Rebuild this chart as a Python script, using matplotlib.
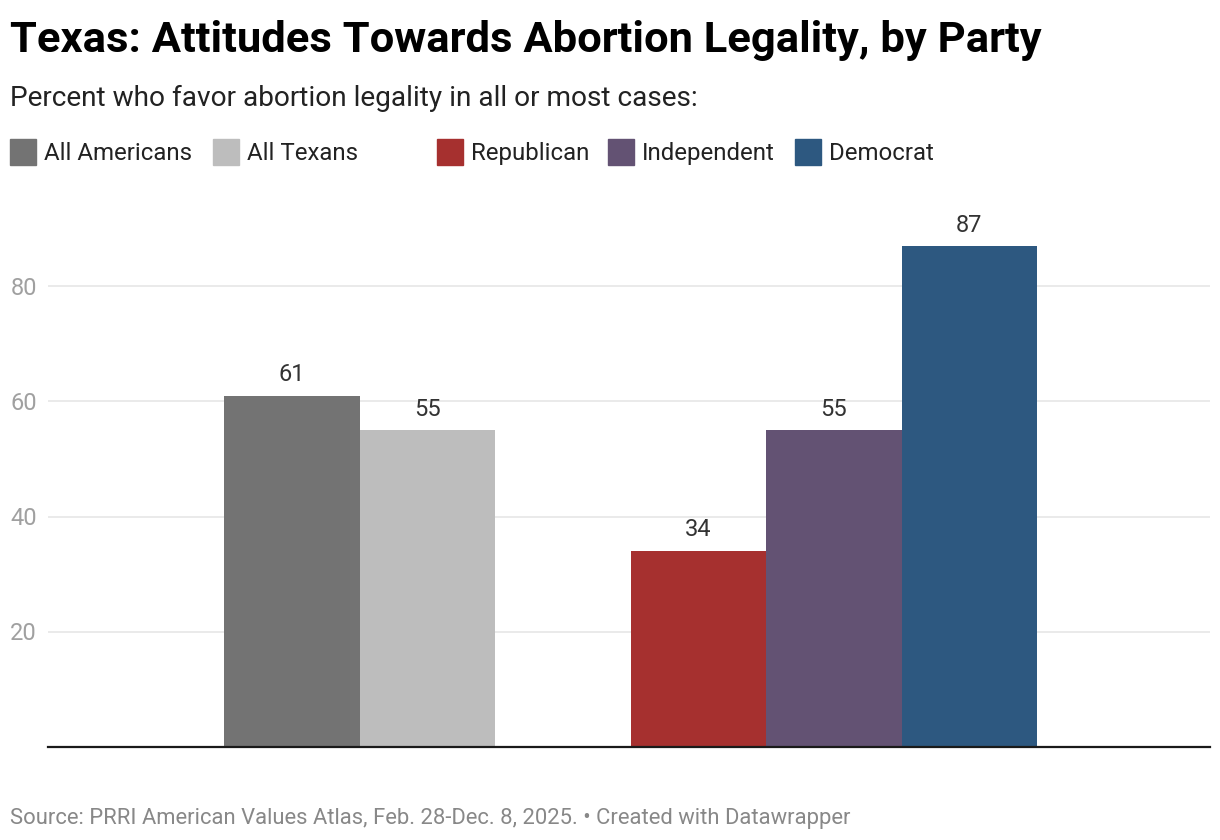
import matplotlib
matplotlib.use('Agg')
import matplotlib.pyplot as plt
from matplotlib.patches import Rectangle

# data
groups = ['All Americans', 'All Texans', 'Republican', 'Independent', 'Democrat']
values = [61, 55, 34, 55, 87]
colors = ['#737373', '#bdbdbd', '#a6302f', '#635273', '#2d5880']
yticks = [20, 40, 60, 80]

title = 'Texas: Attitudes Towards Abortion Legality, by Party'
subtitle = 'Percent who favor abortion legality in all or most cases:'
source = 'Source: PRRI American Values Atlas, Feb. 28-Dec. 8, 2025. \u2022 Created with Datawrapper'

plt.rcParams['font.family'] = ['Roboto', 'DejaVu Sans']

W, H = 1220, 840
fig = plt.figure(figsize=(W / 100, H / 100), dpi=100)
fig.patch.set_facecolor('white')

# axes placed in pixels: x 48..1210, baseline at 746.5, 5.75 px per unit
px_per_unit = 5.75
ymax = 90
ax = fig.add_axes([48 / W, 1 - 746.5 / H, 1162 / W, ymax * px_per_unit / H])

# bar slots: gap of one bar between the two groups
xs = [0, 1, 3, 4, 5]
bars = ax.bar(xs, values, width=1.0, color=colors, zorder=2)
for b, v in zip(bars, values):
    ax.annotate(str(v), (b.get_x() + b.get_width() / 2, v), xytext=(0, 10.5),
                textcoords='offset points', ha='center', va='baseline',
                fontsize=17, color='#333333')

bw = 135.5
left = -0.5 - (224 - 48) / bw
ax.set_xlim(left, left + 1162 / bw)
ax.set_ylim(0, ymax)

ax.set_yticks(yticks)
ax.set_yticklabels([str(t) for t in yticks])
ax.tick_params(axis='y', length=0, pad=8, labelsize=17, labelcolor='#a0a0a0')
ax.tick_params(axis='x', length=0, labelbottom=False)
ax.grid(axis='y', color='#e6e6e6', linewidth=1.2, zorder=0)
for s in ['top', 'right', 'left']:
    ax.spines[s].set_visible(False)
ax.spines['bottom'].set_color('#1a1a1a')
ax.spines['bottom'].set_linewidth(1.6)
ax.spines['bottom'].set_zorder(3)

# header
fig.text(10 / W, 1 - 52 / H, title, fontsize=31.3, fontweight='bold', color='#000000', va='baseline')
fig.text(10 / W, 1 - 106 / H, subtitle, fontsize=20.2, color='#222222', va='baseline')

# legend, drawn by hand (extra gap before the party entries)
sq_x = [10, 213, 437, 608, 795]
sq = 26
for x, name, c in zip(sq_x, groups, colors):
    fig.patches.append(Rectangle((x / W, 1 - 165 / H), sq / W, sq / H,
                                 transform=fig.transFigure, color=c))
    fig.text((x + sq + 8) / W, 1 - 160 / H, name, fontsize=17.3, color='#222222', va='baseline')

fig.text(10 / W, 1 - 824 / H, source, fontsize=15.8, color='#888888', va='baseline')

fig.savefig('out.png', dpi=100)
